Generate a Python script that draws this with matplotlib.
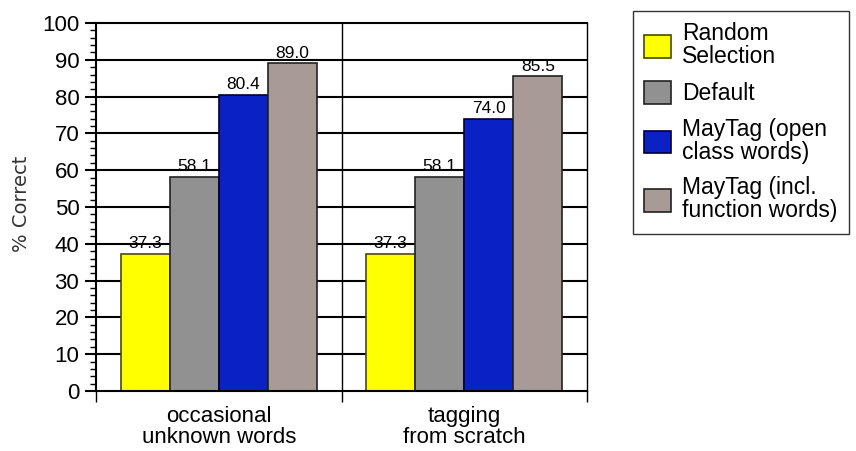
import matplotlib
matplotlib.use("Agg")
import matplotlib.pyplot as plt
from matplotlib.patches import Patch
import numpy as np

# Data
groups = ["occasional\nunknown words", "tagging\nfrom scratch"]
series_names = ["Random\nSelection", "Default", "MayTag (open\nclass words)", "MayTag (incl.\nfunction words)"]
random_sel = [37.3, 37.3]
default = [58.1, 58.1]
maytag_open = [80.4, 74.0]
maytag_incl = [89.0, 85.5]
colors = ["#ffff00", "#919191", "#0a22c4", "#a89a96"]
edge_colors = ["#4a4a00", "#222222", "#000033", "#222222"]

plt.rcParams["font.family"] = ["Liberation Sans", "DejaVu Sans"]

fig = plt.figure(figsize=(8.56, 4.51), dpi=100)
ax = fig.add_axes([96 / 856, 1 - 391 / 451, (587 - 96) / 856, (391 - 23) / 451])

x = np.arange(len(groups))
width = 0.2
all_series = [random_sel, default, maytag_open, maytag_incl]

# horizontal grid lines behind the bars
for yv in range(10, 100, 10):
    ax.axhline(yv, color="black", lw=1.5, zorder=1)
ax.axvline(0.5, color="black", lw=1, zorder=1)

for i, vals in enumerate(all_series):
    pos = x + (i - 1.5) * width
    bars = ax.bar(pos, vals, width, color=colors[i], edgecolor=edge_colors[i],
                  linewidth=1.2, zorder=2)
    for b, v in zip(bars, vals):
        ax.annotate(f"{v:.1f}", (b.get_x() + b.get_width() / 2, v),
                    xytext=(0, 2), textcoords="offset points",
                    ha="center", va="bottom", fontsize=12.5, zorder=0.5)

ax.set_xlim(-0.5, 1.5)
ax.set_ylim(0, 100)

ax.set_yticks(np.arange(0, 101, 10))
ax.set_yticks(np.arange(0, 101, 2), minor=True)
ax.tick_params(axis="y", which="major", length=8, width=1.5, labelsize=16, pad=4)
ax.tick_params(axis="y", which="minor", length=4, width=1)

ax.set_xticks(x, groups)
ax.set_xticks([-0.5, 0.5, 1.5], minor=True)
ax.tick_params(axis="x", which="major", length=0, labelsize=16, pad=11)
ax.tick_params(axis="x", which="minor", length=8, width=1)
for lbl in ax.get_xticklabels():
    lbl.set_linespacing(1.0)

for side in ["left", "bottom", "top"]:
    ax.spines[side].set_linewidth(1.5)
ax.spines["right"].set_linewidth(1)

fig.text(22 / 856, 1 - 204 / 451, "% Correct", rotation=90, ha="center", va="center",
         fontsize=14, color="#333333", family="DejaVu Sans")

handles = [Patch(facecolor=colors[i], edgecolor=edge_colors[i], linewidth=1.2)
           for i in range(4)]
leg = fig.legend(handles, series_names, loc="upper left",
                 bbox_to_anchor=(633 / 856, 1 - 11 / 451),
                 fontsize=16.5, frameon=True, fancybox=False,
                 handlelength=1.15, handleheight=1.15, handletextpad=0.5,
                 labelspacing=0.55, borderpad=0.5, borderaxespad=0)
leg.get_frame().set_edgecolor("black")
leg.get_frame().set_linewidth(1)
for t in leg.get_texts():
    t.set_linespacing(1.0)

fig.savefig("out.png", dpi=100)
